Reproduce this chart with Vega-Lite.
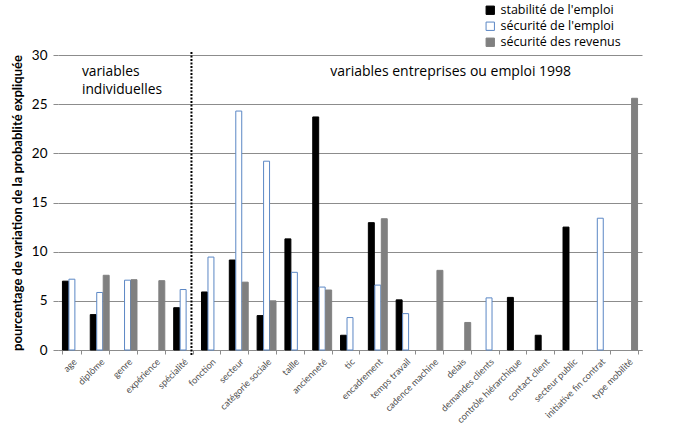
{
  "$schema": "https://vega.github.io/schema/vega-lite/v6.json",
  "width": 584,
  "height": 295,
  "autosize": {"type": "none"},
  "padding": {"left": 58, "top": 55, "right": 41, "bottom": 88},
  "background": "white",
  "config": {"font": "Lato", "view": {"stroke": null}},
  "data": {
    "values": [
      {"cat": "age", "serie": "stabilité de l'emploi", "v": 7.0},
      {"cat": "age", "serie": "sécurité de l'emploi", "v": 7.2},
      {"cat": "diplôme", "serie": "stabilité de l'emploi", "v": 3.6},
      {"cat": "diplôme", "serie": "sécurité de l'emploi", "v": 5.85},
      {"cat": "diplôme", "serie": "sécurité des revenus", "v": 7.6},
      {"cat": "genre", "serie": "sécurité de l'emploi", "v": 7.1},
      {"cat": "genre", "serie": "sécurité des revenus", "v": 7.15},
      {"cat": "expérience", "serie": "sécurité des revenus", "v": 7.05},
      {"cat": "spécialité", "serie": "stabilité de l'emploi", "v": 4.3},
      {"cat": "spécialité", "serie": "sécurité de l'emploi", "v": 6.15},
      {"cat": "fonction", "serie": "stabilité de l'emploi", "v": 5.9},
      {"cat": "fonction", "serie": "sécurité de l'emploi", "v": 9.45},
      {"cat": "secteur", "serie": "stabilité de l'emploi", "v": 9.15},
      {"cat": "secteur", "serie": "sécurité de l'emploi", "v": 24.3},
      {"cat": "secteur", "serie": "sécurité des revenus", "v": 6.9},
      {"cat": "catégorie sociale", "serie": "stabilité de l'emploi", "v": 3.5},
      {"cat": "catégorie sociale", "serie": "sécurité de l'emploi", "v": 19.2},
      {"cat": "catégorie sociale", "serie": "sécurité des revenus", "v": 5.0},
      {"cat": "taille", "serie": "stabilité de l'emploi", "v": 11.3},
      {"cat": "taille", "serie": "sécurité de l'emploi", "v": 7.9},
      {"cat": "ancienneté", "serie": "stabilité de l'emploi", "v": 23.7},
      {"cat": "ancienneté", "serie": "sécurité de l'emploi", "v": 6.4},
      {"cat": "ancienneté", "serie": "sécurité des revenus", "v": 6.1},
      {"cat": "tic", "serie": "stabilité de l'emploi", "v": 1.5},
      {"cat": "tic", "serie": "sécurité de l'emploi", "v": 3.3},
      {"cat": "encadrement", "serie": "stabilité de l'emploi", "v": 12.95},
      {"cat": "encadrement", "serie": "sécurité de l'emploi", "v": 6.6},
      {"cat": "encadrement", "serie": "sécurité des revenus", "v": 13.35},
      {"cat": "temps travail", "serie": "stabilité de l'emploi", "v": 5.1},
      {"cat": "temps travail", "serie": "sécurité de l'emploi", "v": 3.7},
      {"cat": "cadence machine", "serie": "sécurité des revenus", "v": 8.1},
      {"cat": "delais", "serie": "sécurité des revenus", "v": 2.8},
      {"cat": "demandes clients", "serie": "sécurité de l'emploi", "v": 5.3},
      {"cat": "contrôle hiérarchique", "serie": "stabilité de l'emploi", "v": 5.35},
      {"cat": "contact client", "serie": "stabilité de l'emploi", "v": 1.5},
      {"cat": "secteur public", "serie": "stabilité de l'emploi", "v": 12.5},
      {"cat": "initiative fin contrat", "serie": "sécurité de l'emploi", "v": 13.4},
      {"cat": "type mobilité", "serie": "sécurité des revenus", "v": 25.6}
    ]
  },
  "layer": [
    {
      "mark": {"type": "bar", "strokeWidth": 1},
      "encoding": {
        "x": {
          "field": "cat",
          "type": "nominal",
          "scale": {
            "domain": ["age", "diplôme", "genre", "expérience", "spécialité", "fonction", "secteur", "catégorie sociale", "taille", "ancienneté", "tic", "encadrement", "temps travail", "cadence machine", "delais", "demandes clients", "contrôle hiérarchique", "contact client", "secteur public", "initiative fin contrat", "type mobilité"],
            "paddingInner": 0.32,
            "paddingOuter": 0.16
          },
          "axis": {
            "title": null,
            "labelAngle": -45,
            "labelFontSize": 9.3,
            "labelColor": "#505050",
            "domainColor": "#8c8c8c",
            "tickColor": "#8c8c8c",
            "tickSize": 4,
            "tickBand": "extent",
            "labelPadding": 3
          }
        },
        "xOffset": {
          "field": "serie",
          "type": "nominal",
          "scale": {"domain": ["stabilité de l'emploi", "sécurité de l'emploi", "sécurité des revenus"], "paddingInner": 0.08}
        },
        "y": {
          "field": "v",
          "type": "quantitative",
          "scale": {"domain": [0, 30], "nice": false},
          "axis": {
            "title": "pourcentage de variation de la probablité expliquée",
            "titleFontSize": 13,
            "titleFontWeight": "bold",
            "titleColor": "#000000",
            "titlePadding": 7,
            "values": [0, 5, 10, 15, 20, 25, 30],
            "labelFontSize": 13.5,
            "labelColor": "#000000",
            "labelPadding": 6,
            "gridColor": "#8c8c8c",
            "gridOpacity": 1,
            "domain": false,
            "tickColor": "#8c8c8c",
            "tickSize": 5
          }
        },
        "fill": {
          "field": "serie",
          "type": "nominal",
          "scale": {"domain": ["stabilité de l'emploi", "sécurité de l'emploi", "sécurité des revenus"], "range": ["#000000", "#ffffff", "#808080"]},
          "legend": {
            "title": null,
            "orient": "none",
            "legendX": 426,
            "legendY": -51,
            "symbolType": "square",
            "symbolSize": 70,
            "symbolStrokeWidth": 1,
            "labelFont": "Open Sans",
            "labelFontSize": 12.5,
            "labelColor": "#000000",
            "rowPadding": 3,
            "labelOffset": 4
          }
        },
        "stroke": {
          "field": "serie",
          "type": "nominal",
          "scale": {"domain": ["stabilité de l'emploi", "sécurité de l'emploi", "sécurité des revenus"], "range": ["#000000", "#5b87c5", "#808080"]},
          "legend": {
            "title": null,
            "orient": "none",
            "legendX": 426,
            "legendY": -51,
            "symbolType": "square",
            "symbolSize": 70,
            "symbolStrokeWidth": 1,
            "labelFont": "Open Sans",
            "labelFontSize": 12.5,
            "labelColor": "#000000",
            "rowPadding": 3,
            "labelOffset": 4
          }
        }
      }
    },
    {
      "data": {"values": [{}]},
      "mark": {"type": "rule", "strokeDash": [2, 1.5], "strokeWidth": 2, "color": "#000000"},
      "encoding": {
        "x": {"datum": "spécialité", "bandPosition": 0.94},
        "y": {"datum": 30.3},
        "y2": {"datum": -0.6}
      }
    },
    {
      "data": {"values": [{}]},
      "mark": {"type": "text", "align": "left", "baseline": "middle", "font": "Open Sans", "fontSize": 13.8, "lineBreak": "\n", "lineHeight": 18, "fill": "#000000"},
      "encoding": {
        "x": {"datum": "age", "bandPosition": 1.03},
        "y": {"datum": 28.3},
        "text": {"value": "variables\nindividuelles"}
      }
    },
    {
      "data": {"values": [{}]},
      "mark": {"type": "text", "align": "left", "baseline": "middle", "font": "Open Sans", "fontSize": 14, "fill": "#000000"},
      "encoding": {
        "x": {"datum": "ancienneté", "bandPosition": 0.92},
        "y": {"datum": 28.3},
        "text": {"value": "variables entreprises ou emploi 1998"}
      }
    }
  ]
}
